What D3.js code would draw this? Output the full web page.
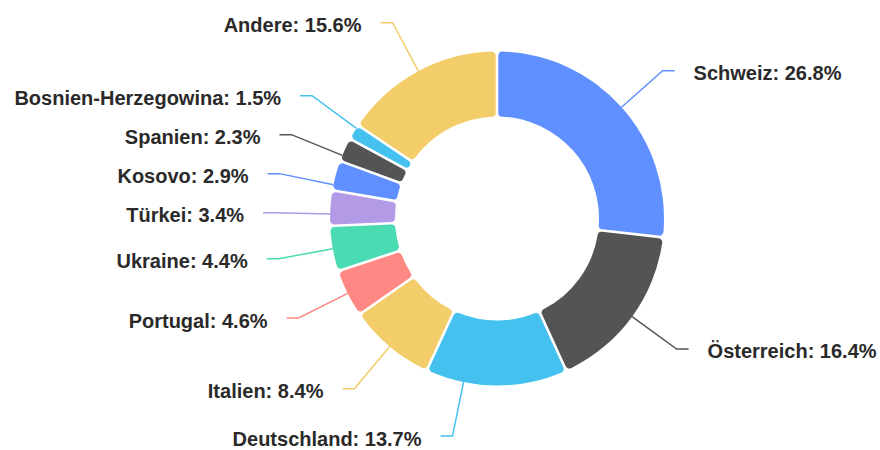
<!DOCTYPE html>
<html lang="de">
<head>
    <meta charset="utf-8">
    <title>Herkunft nach Land</title>
    <script src="https://d3js.org/d3.v7.min.js"></script>
    <style>
        body {
            margin: 0;
            background: #fff;
        }
        svg {
            display: block;
        }
        .label {
            font-family: "Liberation Sans", Arial, Helvetica, sans-serif;
            font-weight: bold;
            font-size: 20px;
            fill: #2a2a2a;
        }
    </style>
</head>
<body>
<script>

    var countries = ["Schweiz", "Österreich", "Deutschland", "Italien", "Portugal", "Ukraine",
        "Türkei", "Kosovo", "Spanien", "Bosnien-Herzegowina", "Andere"];
    var shares = [26.8, 16.4, 13.7, 8.4, 4.6, 4.4, 3.4, 2.9, 2.3, 1.5, 15.6];
    var palette = ["#6090ff", "#545457", "#45c1ef", "#f3cd69", "#ff8884", "#4bdbb3", "#b29ae6"];

    var w = 880;
    var h = 450;
    var cx = 497, cy = 218.5;
    var outerR = 167, innerR = 102;
    var lineR = 222;   // radius where the leader lines bend
    var len2 = 12;     // horizontal part of the leader line
    var textGap = 19;
    var minGap = 39;   // min vertical distance between two labels

    var data = countries.map(function(c, i){
        return {name: c, value: shares[i]};
    });

    var color = d3.scaleOrdinal()
        .domain(countries)
        .range(palette);

    var pie = d3.pie()
        .sort(null)
        .value(function(d){ return d.value; });

    var arcs = pie(data);

    var arc = d3.arc()
        .innerRadius(innerR)
        .outerRadius(outerR)
        .cornerRadius(4)
        .padAngle(0.013);

    var svg = d3.select("body")
        .append("svg")
        .attr("width", w)
        .attr("height", h);

    var g = svg.append("g")
        .attr("transform", "translate(" + cx + "," + cy + ")");

    //slices
    g.selectAll("path.slice")
        .data(arcs)
        .enter()
        .append("path")
        .attr("class", "slice")
        .attr("d", arc)
        .attr("fill", function(d){ return color(d.data.name); });

    //label layout: natural position on the bend radius, then spread overlapping ones
    var labels = arcs.map(function(d){
        var mid = (d.startAngle + d.endAngle) / 2;
        var y0 = -lineR * Math.cos(mid);
        return {arc: d, mid: mid, side: Math.sin(mid) >= 0 ? 1 : -1, y0: y0, y: y0};
    });

    var minY = 14 - cy, maxY = 436 - cy;

    function placeGroup(items){
        var n = items.length;
        // center the group between its first and last natural position
        var centre = (items[0].y0 + items[n - 1].y0) / 2;
        var start = centre - (n - 1) * minGap / 2;
        start = Math.max(minY, Math.min(maxY - (n - 1) * minGap, start));
        items.forEach(function(it, k){ it.y = start + k * minGap; });
    }

    function spread(list){
        list.sort(function(a, b){ return a.y0 - b.y0; });
        var groups = list.map(function(l){ return [l]; });
        var merged = true;
        while (merged) {
            merged = false;
            groups.forEach(placeGroup);
            for (var i = 0; i < groups.length - 1; i++) {
                var a = groups[i], b = groups[i + 1];
                if (b[0].y - a[a.length - 1].y < minGap) {
                    groups.splice(i, 2, a.concat(b));
                    merged = true;
                    break;
                }
            }
        }
    }

    spread(labels.filter(function(l){ return l.side < 0; }));
    spread(labels.filter(function(l){ return l.side > 0; }));

    labels.forEach(function(l){
        var ex = l.side * Math.sqrt(Math.max(0, lineR * lineR - l.y * l.y));
        var a = Math.atan2(ex, -l.y);
        if (a < 0) a += 2 * Math.PI;
        a = Math.max(l.arc.startAngle + 0.02, Math.min(l.arc.endAngle - 0.02, a));
        l.points = [
            [outerR * Math.sin(a), -outerR * Math.cos(a)],
            [ex, l.y],
            [ex + l.side * len2, l.y]
        ];
        l.tx = ex + l.side * (len2 + textGap);
    });

    //leader lines
    g.selectAll("path.tick")
        .data(labels)
        .enter()
        .append("path")
        .attr("class", "tick")
        .attr("d", function(d){ return d3.line()(d.points); })
        .attr("fill", "none")
        .attr("stroke", function(d){ return color(d.arc.data.name); })
        .attr("stroke-width", 1.5);

    //label texts
    g.selectAll("text.label")
        .data(labels)
        .enter()
        .append("text")
        .attr("class", "label")
        .attr("x", function(d){ return d.tx; })
        .attr("y", function(d){ return d.y + 9.5; })
        .attr("text-anchor", function(d){ return d.side > 0 ? "start" : "end"; })
        .text(function(d){ return d.arc.data.name + ": " + d.arc.data.value.toFixed(1) + "%"; });

</script>
</body>
</html>
